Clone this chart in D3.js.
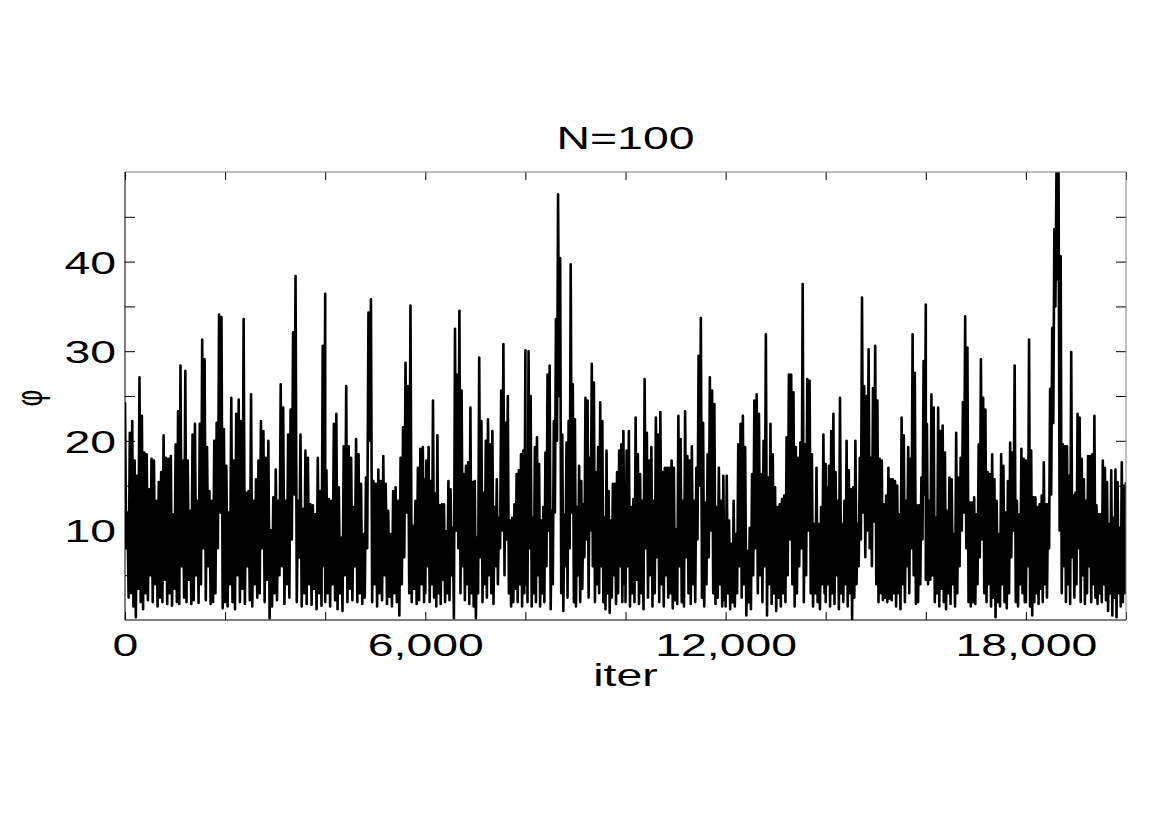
<!DOCTYPE html>
<html>
<head>
<meta charset="utf-8">
<script src="https://cdn.jsdelivr.net/npm/d3@7"></script>
<style>
  html, body { margin: 0; padding: 0; background: #fff; }
  svg { display: block; }
  text { font-family: "Liberation Sans", Arial, Helvetica, sans-serif; fill: #000; }
</style>
</head>
<body>
<svg id="chart" width="1170" height="827"></svg>
<script>
// ---- DATA (phi trace; each block spans 2000 iterations) ----
const title = "N=100";
const xLabel = "iter";
const yLabel = "\u03D5";
const itersPerBlock = 2000;
const xTickValues = [0, 2000, 4000, 6000, 8000, 10000, 12000, 14000, 16000, 18000, 20000];
const xTickLabels = [0, 6000, 12000, 18000];
const yTickValues = [5, 10, 15, 20, 25, 30, 35, 40, 45];
const yTickLabels = [10, 20, 30, 40];

const block1 = [24.3, 8, 12, 2.5, 20.9, 3, 22.2, 1.5, 17.8, 0.3, 16.1, 3.5, 27.1, 2, 22.8, 1.2, 18.7, 3, 18.5, 2.2, 14.6, 5, 18.0, 2, 17.8, 4, 13.3, 1.5, 15.4, 2.5, 16.5, 2, 20.6, 4.5, 18.1, 1.8, 18.0, 3, 18.3, 1.6, 11.8, 3.5, 19.6, 2, 23.3, 1.8, 28.4, 6, 17.8, 2.5, 27.8, 2, 17.8, 4.5, 12.2, 1.8, 20.7, 2.2, 21.9, 5, 13.3, 1.9, 21.9, 4, 31.3, 8, 29.1, 2.2, 19.3, 6, 14.4, 1.8, 13.3, 2, 20.0, 3, 22.0, 8, 34.1, 12, 33.8, 1.3, 21.3, 2];
const block2 = [3, 17.2, 1.5, 12.0, 4, 24.8, 2, 17.8, 1.2, 23.0, 5, 24.6, 2, 22.2, 3.5, 33.6, 1.8, 14.2, 6, 14.4, 2.2, 25.2, 1.5, 13.3, 4, 15.7, 2.5, 17.8, 3, 22.2, 8, 21.1, 2, 18.1, 4.5, 20.0, 0.2, 10.0, 1.5, 13.7, 3, 16.8, 2.2, 13.3, 5, 26.3, 6, 23.7, 1.8, 13.3, 4, 20.7, 2.5, 23.5, 9, 32.1, 14, 38.4, 2, 13.3, 7, 20.7, 1.5, 12.4, 3, 18.9, 1.8, 18.1, 4, 12.9, 1.7, 12.8, 3.5, 11.8, 1.2, 18.1, 3, 14.4, 1.6, 30.6, 6, 36.4];
const block3 = [2, 16.7, 3, 13.5, 1.5, 13.3, 4, 21.9, 2.2, 23.0, 1.2, 14.8, 3, 9.2, 1.0, 19.4, 5, 26.1, 2, 19.4, 3.5, 18.1, 2.2, 12.6, 6, 20.2, 2, 18.5, 3, 15.2, 1.8, 9.6, 2.5, 15.9, 8, 34.3, 20, 35.8, 2, 15.5, 4, 15.2, 1.5, 16.8, 3, 15.5, 2.2, 18.3, 5, 15.2, 1.8, 12.2, 2.6, 9.6, 1.5, 14.4, 3, 14.8, 2, 13.3, 0.5, 18.1, 4, 21.5, 7, 28.7, 12, 26.1, 3, 35.1, 2, 10.5, 3.5, 13.3, 1.8, 17.0, 2.2, 19.1, 4, 19.3, 2, 15.7];
const block4 = [3, 17.8, 6, 19.3, 2, 15.5, 4, 24.5, 2.5, 14.1, 1.5, 20.6, 3, 12.8, 1.8, 12.9, 4.5, 12.9, 2, 9.9, 3, 15.5, 2.2, 14.6, 5, 10.3, 0.2, 32.5, 10, 27.4, 8, 34.5, 3, 25.6, 6, 16.3, 2.2, 17.2, 4, 17.6, 1.8, 23.7, 3, 15.4, 1.5, 15.5, 0.2, 9.2, 3, 29.3, 7, 22.2, 2, 14.2, 4, 20.0, 2.5, 22.4, 5, 19.6, 3, 21.1, 1.8, 12.6, 6, 15.7, 4, 11.4, 8, 25.6, 10, 30.8, 5, 22.0, 9, 25.0, 3, 11.1, 1.5, 11.4, 2, 12.9, 3.5, 16.3, 2, 16.7, 4, 18.5, 1.5, 18.9, 3, 30.1];
const block5 = [4, 18.5, 2, 30.0, 8, 25.0, 1.5, 11.4, 3, 19.3, 2, 20.4, 5, 17.4, 1.5, 11.1, 3, 12.6, 2, 18.7, 6, 27.4, 10, 28.4, 1.2, 12.2, 4, 22.2, 12, 33.6, 20, 47.5, 25, 40.4, 3, 20.7, 1, 11.8, 6, 19.8, 2.5, 22.2, 8, 39.7, 12, 26.3, 2, 22.4, 1.5, 12.6, 5, 17.2, 2, 15.5, 3.5, 12.9, 7, 24.8, 9, 24.5, 2.5, 18.1, 10, 28.6, 6, 26.5, 2, 16.5, 4, 19.3, 3, 24.3, 6, 22.2, 2, 11.4, 1.2, 18.9, 3, 14.4, 0.8, 11.1, 2.5, 15.2, 5, 15.2, 1.8, 16.5, 3, 18.9, 6, 19.6, 2, 21.1, 4, 13.3];
const block6 = [2, 18.9, 6, 21.1, 1.5, 12.6, 3, 13.5, 2, 22.6, 4.5, 18.5, 1.8, 16.3, 3, 13.3, 1.2, 26.9, 8, 20.9, 2.5, 17.8, 5, 19.3, 1.5, 13.3, 3, 22.6, 7, 20.7, 2, 23.2, 4, 16.5, 1.5, 17.0, 5, 17.0, 2.5, 17.0, 3, 17.8, 1.3, 17.0, 2.2, 10.1, 1.8, 22.8, 6, 20.2, 2, 13.3, 1.5, 23.3, 7, 18.3, 3, 17.8, 1.8, 19.4, 4, 13.3, 2, 17.0, 9, 29.5, 15, 33.7, 2.5, 22.0, 1.5, 13.1, 4, 18.5, 7, 27.1, 10, 25.6, 3, 24.1, 1.8, 12.6, 2.5, 17.0, 4, 13.3, 1.5, 16.1, 2.2, 11.1];
const block7 = [1.5, 16.1, 3, 11.1, 1.2, 8.5, 2, 13.3, 1.5, 9.6, 3, 19.6, 6, 21.9, 2.5, 22.8, 4, 19.3, 0.5, 7.7, 2, 10.3, 1.2, 16.3, 5, 24.5, 8, 25.2, 3, 23.0, 5, 16.3, 2, 20.0, 6, 31.9, 0.5, 15.9, 4, 21.9, 1.8, 18.5, 3, 14.8, 1, 12.6, 2.5, 12.9, 1.5, 13.5, 3, 13.9, 2, 20.4, 5, 27.4, 9, 27.4, 4, 25.4, 1.5, 19.3, 3, 18.1, 6, 19.8, 8, 37.5, 2, 19.6, 5, 26.9, 10, 26.7, 3, 18.5, 1.5, 10.7, 3, 17.0, 2, 10.7, 1.2, 12.6, 4, 20.7, 3, 17.4];
const block8 = [2, 14.8, 4, 17.2, 1.5, 21.1, 3, 23.0, 1.8, 16.5, 5, 13.3, 1.2, 24.8, 3, 10.7, 2, 13.3, 4, 20.0, 1.5, 16.7, 3, 14.6, 0.1, 14.8, 2.5, 20.0, 4, 10.7, 6, 18.1, 9, 36.0, 12, 26.1, 7, 25.0, 10, 30.2, 8, 18.1, 6, 25.9, 11, 30.6, 4, 24.5, 2, 18.0, 3, 17.8, 2.2, 12.9, 2.5, 13.9, 2, 17.0, 2.4, 15.7, 2.2, 15.7, 3, 15.5, 1.5, 15.0, 3, 11.8, 1.2, 22.6, 4, 20.6, 2, 13.3, 6, 19.3, 3, 18.0, 8, 31.9, 5, 27.6, 1.8, 12.8, 2, 12.8, 4, 15.9, 9, 28.9, 14, 35.2];
const block9 = [4.5, 21.9, 4, 13.3, 4.5, 25.2, 5, 23.7, 2, 11.4, 3, 23.7, 1.5, 21.1, 3.5, 21.7, 2, 18.7, 1.2, 12.2, 3, 15.9, 1.8, 15.7, 4, 9.6, 1.5, 20.9, 3, 15.9, 6, 18.1, 10, 24.3, 12, 33.9, 8, 30.4, 2, 13.1, 1.5, 13.1, 2, 13.7, 1.8, 11.8, 4, 19.6, 7, 29.1, 9, 24.8, 3, 23.5, 2, 16.5, 4, 16.3, 1.5, 18.5, 2.5, 15.7, 0.3, 13.3, 2, 9.6, 1.5, 18.5, 4, 17.2, 2, 12.0, 1.3, 15.5, 3, 19.8, 7, 18.7, 10, 28.4, 2, 13.3, 1.5, 11.8, 4, 19.1, 3, 18.0, 2, 17.8];
const block10 = [2, 16.3, 6, 31.3, 1.5, 18.9, 0.5, 13.7, 2, 13.7, 3, 12.6, 1.8, 12.9, 3.5, 13.9, 2, 17.6, 4, 12.9, 2.5, 12.9, 8, 25.8, 14, 32.6, 22, 43.6, 35, 49.9, 38, 49.9, 10, 40.6, 3, 19.6, 6, 19.4, 2, 19.4, 4, 16.1, 1.8, 29.9, 7, 13.9, 2.5, 14.2, 4, 23.0, 8, 22.6, 2, 18.0, 5, 15.7, 1.8, 13.3, 3, 18.3, 6, 18.3, 2, 18.5, 4, 22.8, 2.5, 12.8, 1.8, 11.8, 3, 11.8, 2, 17.8, 4, 17.0, 2.2, 15.4, 1, 10.7, 3, 16.7, 0.5, 11.4, 2.5, 16.8, 0.3, 15.4, 3, 10.3, 1.5, 17.6, 2, 15.0, 3, 15.4];

const blocks = [block1, block2, block3, block4, block5, block6, block7, block8, block9, block10];

// ---- LAYOUT ----
const margin = { left: 125, right: 1126, top: 172, bottom: 620 };
const stretch = 1.45;
const fontSize = 32;

const svg = d3.select("#chart");
const x = d3.scaleLinear().domain([0, 20000]).range([margin.left, margin.right]);
const y = d3.scaleLinear().domain([0, 50]).range([margin.bottom, margin.top]);

const series = blocks.flatMap((b, i) =>
  b.map((v, j) => ({ iter: i * itersPerBlock + itersPerBlock * j / (b.length - 1), phi: v }))
);

svg.append("rect").attr("width", 1170).attr("height", 827).attr("fill", "#fff");

svg.append("defs").append("clipPath").attr("id", "plotclip")
  .append("rect")
  .attr("x", margin.left).attr("y", margin.top)
  .attr("width", margin.right - margin.left).attr("height", margin.bottom - margin.top);

const line = d3.line().x(d => x(d.iter)).y(d => y(d.phi));

svg.append("path")
  .datum(series)
  .attr("clip-path", "url(#plotclip)")
  .attr("fill", "none")
  .attr("stroke", "#000")
  .attr("stroke-width", 2.6)
  .attr("stroke-linejoin", "round")
  .attr("d", line);

// axes (ticks inward, MATLAB style)
const fmt = d3.format(",");
const xBottom = svg.append("g")
  .attr("transform", `translate(0,${margin.bottom})`)
  .call(d3.axisBottom(x).tickValues(xTickValues).tickSizeInner(-8).tickSizeOuter(0)
        .tickFormat(d => xTickLabels.includes(d) ? fmt(d) : ""));
const xTop = svg.append("g")
  .attr("transform", `translate(0,${margin.top})`)
  .call(d3.axisTop(x).tickValues(xTickValues).tickSizeInner(-8).tickSizeOuter(0).tickFormat(""));
const yLeft = svg.append("g")
  .attr("transform", `translate(${margin.left},0)`)
  .call(d3.axisLeft(y).tickValues(yTickValues).tickSizeInner(-10).tickSizeOuter(0)
        .tickFormat(d => yTickLabels.includes(d) ? d : ""));
const yRight = svg.append("g")
  .attr("transform", `translate(${margin.right},0)`)
  .call(d3.axisRight(y).tickValues(yTickValues).tickSizeInner(-10).tickSizeOuter(0).tickFormat(""));

[xBottom, xTop, yLeft, yRight].forEach(g => {
  g.select(".domain").remove();
  g.selectAll(".tick line").attr("stroke", "#000").attr("stroke-width", 1);
});

xBottom.selectAll(".tick text")
  .attr("y", 0).attr("dy", 0)
  .attr("font-size", fontSize)
  .attr("fill", "#000")
  .attr("font-family", '"Liberation Sans", Arial, sans-serif')
  .attr("text-anchor", "middle")
  .attr("transform", `translate(0,36) scale(${stretch},1)`);

yLeft.selectAll(".tick text")
  .attr("x", 0).attr("dy", 0).attr("y", 0)
  .attr("font-size", fontSize)
  .attr("fill", "#000")
  .attr("font-family", '"Liberation Sans", Arial, sans-serif')
  .attr("text-anchor", "end")
  .attr("transform", `translate(-9,11.5) scale(${stretch},1)`);

// box
const box = svg.append("g").attr("fill", "none").attr("stroke-width", 1);
box.append("line").attr("x1", margin.left).attr("x2", margin.right).attr("y1", margin.top).attr("y2", margin.top).attr("stroke", "#808080");
box.append("line").attr("x1", margin.right).attr("x2", margin.right).attr("y1", margin.top).attr("y2", margin.bottom).attr("stroke", "#808080");
box.append("line").attr("x1", margin.left).attr("x2", margin.right).attr("y1", margin.bottom).attr("y2", margin.bottom).attr("stroke", "#000");
box.append("line").attr("x1", margin.left).attr("x2", margin.left).attr("y1", margin.top).attr("y2", margin.bottom).attr("stroke", "#000");

// title & labels
const cx = (margin.left + margin.right) / 2;
svg.append("text")
  .attr("transform", `translate(${cx},149) scale(${stretch},1)`)
  .attr("text-anchor", "middle").attr("font-size", fontSize).text(title);
svg.append("text")
  .attr("transform", `translate(${cx},686) scale(${stretch},1)`)
  .attr("text-anchor", "middle").attr("font-size", fontSize).text(xLabel);
svg.append("text")
  .attr("transform", `translate(31,398) rotate(-90) scale(1,${stretch})`)
  .attr("text-anchor", "middle").attr("dy", "0.28em")
  .attr("font-family", '"Liberation Sans", "DejaVu Sans", sans-serif')
  .attr("font-size", 26).text("\u03C6");
</script>
</body>
</html>
